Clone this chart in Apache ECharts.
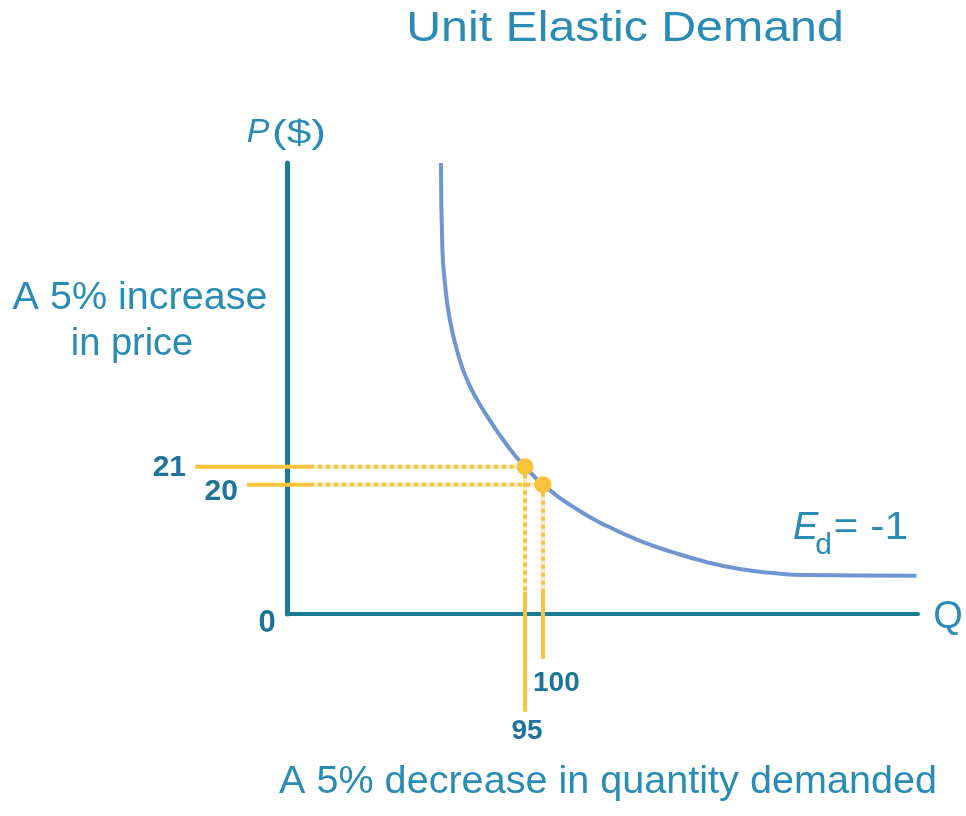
<!DOCTYPE html>
<html>
<head>
<meta charset="utf-8">
<script src="https://cdn.jsdelivr.net/npm/echarts@6/dist/echarts.min.js"></script>
<style>
html,body{margin:0;padding:0;background:#fff;}
#chart{width:966px;height:816px;}
</style>
</head>
<body>
<div id="chart"></div>
<script>
// ---- data (schematic diagram units: Q on x, P on y) ----
const titleText = 'Unit Elastic Demand';
const curveQ = [71.7, 72.1, 72.8, 74.0, 76.1, 79.3, 84.5, 90.9, 95, 100, 109.4, 117.7, 126.9, 136.1, 145.4, 154.6, 163.8, 173.1, 203.6];
const curveP = [37.9, 33.07, 31.22, 29.36, 27.51, 25.66, 23.81, 21.96, 21, 20, 18.63, 17.70, 16.87, 16.23, 15.69, 15.30, 15.08, 14.97, 14.93];
const pointQ = [95, 100];
const pointP = [21, 20];
const priceLabels = ['21', '20'];
const quantityLabels = ['95', '100'];
const originLabel = '0';
const yAxisName = 'P';
const yAxisUnit = '($)';
const xAxisName = 'Q';
const elasticityText = '= -1';
const priceNote = ['A 5% increase', 'in price'];
const quantityNote = 'A 5% decrease in quantity demanded';

// guide extents (diagram units)
const priceGuideStartQ = [3.5, 17.9];
const quantityGuideEndP = [7.36, 10.3];
const dottedBreakQ = 35.4;
const dottedBreakP = 14.02;

const X_MIN = 29, X_MAX = 204, Y_MIN = 12.8, Y_MAX = 37.9;

const TEAL = '#1b7d95';
const TEXT = '#2a8bb4';
const NUM = '#1f7399';
const CURVE = '#6f95d2';
const YEL = '#f8c43c';
const FONT = '"Liberation Sans", Arial, Helvetica, sans-serif';

const chart = echarts.init(document.getElementById('chart'), null, {renderer: 'canvas'});

// guide segments: [q1, p1, q2, p2, kind] kind 0 = solid, 1 = dotted
const guideSegments = [];
pointQ.forEach((q, i) => {
  const p = pointP[i];
  guideSegments.push([priceGuideStartQ[i], p, dottedBreakQ, p, 0]);
  guideSegments.push([dottedBreakQ, p, q, p, 1]);
  guideSegments.push([q, p, q, dottedBreakP, 1]);
  guideSegments.push([q, dottedBreakP, q, quantityGuideEndP[i], 0]);
});

const series = [
  {
    type: 'line', name: 'demand', data: curveQ.map((q, i) => [q, curveP[i]]),
    smooth: 0.5, showSymbol: false, clip: false, z: 3,
    lineStyle: {color: CURVE, width: 4}, silent: true
  },
  {
    type: 'custom', name: 'guides', data: guideSegments, clip: false, z: 2, silent: true,
    encode: {x: [0, 2], y: [1, 3]},
    renderItem: (params, api) => {
      const a = api.coord([api.value(0), api.value(1)]);
      const b = api.coord([api.value(2), api.value(3)]);
      const shape = {x1: a[0], y1: a[1], x2: b[0], y2: b[1]};
      if (api.value(4) === 0) {
        return {type: 'line', shape, style: {stroke: YEL, lineWidth: 4, fill: null}};
      }
      return {type: 'group', children: [
        {type: 'line', shape, style: {stroke: YEL, lineWidth: 4, opacity: 0.3, fill: null}},
        {type: 'line', shape, style: {stroke: YEL, lineWidth: 4, lineDash: [4, 4], fill: null}}
      ]};
    }
  },
  {
    type: 'scatter', data: pointQ.map((q, i) => [q, pointP[i]]), symbolSize: 17, z: 5,
    itemStyle: {color: YEL, opacity: 1}, silent: true
  }
];

chart.setOption({
  animation: false,
  backgroundColor: '#ffffff',
  grid: {left: 287, right: 48, top: 163, bottom: 202, containLabel: false},
  xAxis: {
    type: 'value', min: X_MIN, max: X_MAX,
    axisLine: {show: true, onZero: false, lineStyle: {color: TEAL, width: 4}},
    axisTick: {show: false}, axisLabel: {show: false}, splitLine: {show: false}
  },
  yAxis: {
    type: 'value', min: Y_MIN, max: Y_MAX,
    axisLine: {show: true, onZero: false, lineStyle: {color: TEAL, width: 5}},
    axisTick: {show: false}, axisLabel: {show: false}, splitLine: {show: false}
  },
  series
});

const px = (q, p) => chart.convertToPixel({gridIndex: 0}, [q, p]);
const txt = (text, x, y, o) => ({
  type: 'text', x, y, z: 10, scaleX: (o && o.scaleX) || 1, silent: true,
  style: Object.assign({
    text, fill: TEXT, fontFamily: FONT, fontSize: 38, fontWeight: 'normal', fontStyle: 'normal',
    align: 'center', verticalAlign: 'middle'
  }, (o && o.style) || {})
});

const g = [];
g.push(txt(titleText, 625, 29, {scaleX: 1.15, style: {fontSize: 42}}));
priceLabels.forEach((lab, i) => {
  const a = px(priceGuideStartQ[i], pointP[i]);
  g.push(txt(lab, a[0] - 9, a[1] + (i === 0 ? 1 : 7), {style: {fill: NUM, fontSize: 30, fontWeight: 'bold', align: 'right'}}));
});
quantityLabels.forEach((lab, i) => {
  const a = px(pointQ[i], quantityGuideEndP[i]);
  if (i === 0) g.push(txt(lab, a[0] + 2, a[1] + 20, {style: {fill: NUM, fontSize: 28, fontWeight: 'bold'}}));
  else g.push(txt(lab, a[0] - 10, a[1] + 24, {style: {fill: NUM, fontSize: 28, fontWeight: 'bold', align: 'left'}}));
});
const o = px(X_MIN, Y_MIN);
g.push(txt(originLabel, o[0] - 20, o[1] + 9, {style: {fill: NUM, fontSize: 31, fontWeight: 'bold'}}));
const yTop = px(X_MIN, Y_MAX);
g.push(txt(yAxisName, yTop[0] - 29, yTop[1] - 30, {style: {fontSize: 34, fontStyle: 'italic'}}));
g.push(txt(yAxisUnit, yTop[0] - 15, yTop[1] - 29, {scaleX: 1.3, style: {fontSize: 34, align: 'left'}}));
const xEnd = px(X_MAX, Y_MIN);
g.push(txt(xAxisName, xEnd[0] + 30, xEnd[1] + 4, {style: {fontSize: 38}}));
const cEnd = px(curveQ[curveQ.length - 1], curveP[curveP.length - 1]);
g.push(txt('E', cEnd[0] - 111, cEnd[1] - 47, {style: {fontSize: 38, fontStyle: 'italic'}}));
g.push(txt('d', cEnd[0] - 93, cEnd[1] - 30, {style: {fontSize: 30}}));
g.push(txt(elasticityText, cEnd[0] - 83, cEnd[1] - 47, {scaleX: 1.12, style: {fontSize: 38, align: 'left'}}));
g.push(txt(priceNote[0], 140, 299, {scaleX: 1.04, style: {fontSize: 38}}));
g.push(txt(priceNote[1], 132, 345, {style: {fontSize: 38}}));
g.push(txt(quantityNote, 608, 782, {scaleX: 1.015, style: {fontSize: 39}}));

chart.setOption({graphic: g});
</script>
</body>
</html>
